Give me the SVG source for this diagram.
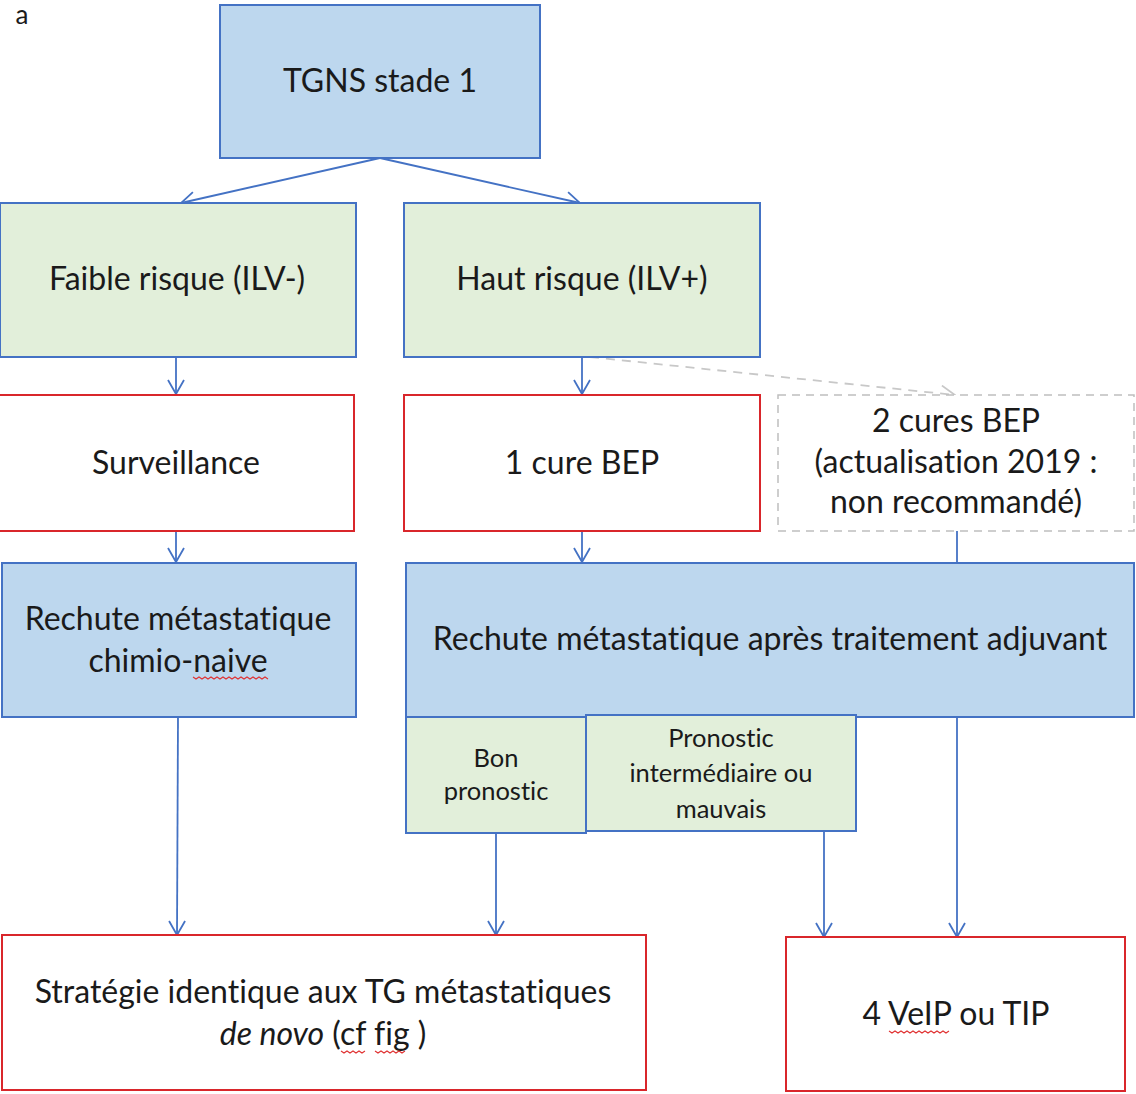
<svg xmlns="http://www.w3.org/2000/svg" width="1136" height="1094" viewBox="0 0 1136 1094">
<style>
text{font-family:Lato,"Liberation Sans",sans-serif;fill:#1a1a1a;text-anchor:middle;font-variant-ligatures:none;font-feature-settings:"liga" 0}
.big{font-size:32px}
.sm{font-size:25.5px}
.blue{fill:#BDD7EE;stroke:#4472C4;stroke-width:2}
.green{fill:#E2EFDA;stroke:#4472C4;stroke-width:2}
.red{fill:#fff;stroke:#D9262B;stroke-width:2}
.dash{fill:#fff;stroke:#BFBFBF;stroke-width:1.5;stroke-dasharray:8 6}
.c{fill:none;stroke:#4472C4;stroke-width:1.8}
.cd{fill:none;stroke:#C8C8C8;stroke-width:1.8;stroke-dasharray:9 7}
.sq{fill:none;stroke:#E03030;stroke-width:1.1}
</style>
<defs>
<marker id="ah" viewBox="0 0 16 18" refX="15" refY="9" markerWidth="16" markerHeight="18" markerUnits="userSpaceOnUse" orient="auto">
<path d="M1,1 L15,9 L1,17" fill="none" stroke="#4472C4" stroke-width="1.8"/>
</marker>
<marker id="ahg" viewBox="0 0 16 18" refX="15" refY="9" markerWidth="16" markerHeight="18" markerUnits="userSpaceOnUse" orient="auto">
<path d="M1,1 L15,9 L1,17" fill="none" stroke="#C8C8C8" stroke-width="1.8"/>
</marker>
</defs>
<rect width="1136" height="1094" fill="#fff"/>
<text x="22" y="24" style="font-size:26px">a</text>

<g id="connectors">
<line class="c" x1="380" y1="158" x2="181" y2="203" marker-end="url(#ah)"/>
<line class="c" x1="380" y1="158" x2="580" y2="203" marker-end="url(#ah)"/>
<line class="c" x1="176" y1="357" x2="176" y2="394" marker-end="url(#ah)"/>
<line class="c" x1="582" y1="357" x2="582" y2="394" marker-end="url(#ah)"/>
<line class="cd" x1="590" y1="357" x2="955" y2="395" marker-end="url(#ahg)"/>
<line class="c" x1="176" y1="531" x2="176" y2="562" marker-end="url(#ah)"/>
<line class="c" x1="582" y1="531" x2="582" y2="562" marker-end="url(#ah)"/>
<line class="c" x1="957" y1="531" x2="957" y2="563"/>
<line class="c" x1="178" y1="717" x2="177" y2="935" marker-end="url(#ah)"/>
<line class="c" x1="496" y1="833" x2="496" y2="935" marker-end="url(#ah)"/>
<line class="c" x1="824" y1="831" x2="824" y2="937" marker-end="url(#ah)"/>
<line class="c" x1="957" y1="717" x2="957" y2="937" marker-end="url(#ah)"/>
</g>

<g id="tgns">
<rect class="blue" x="220" y="5" width="320" height="153"/>
<text class="big" x="380" y="92">TGNS stade 1</text>
</g>
<g id="faible">
<rect class="green" x="0" y="203" width="356" height="154"/>
<text class="big" x="177" y="290">Faible risque (ILV-)</text>
</g>
<g id="haut">
<rect class="green" x="404" y="203" width="356" height="154"/>
<text class="big" x="582" y="290">Haut risque (ILV+)</text>
</g>
<g id="surveillance">
<rect class="red" x="-2" y="395" width="356" height="136"/>
<text class="big" x="176" y="474">Surveillance</text>
</g>
<g id="bep1">
<rect class="red" x="404" y="395" width="356" height="136"/>
<text class="big" x="582" y="474">1 cure BEP</text>
</g>
<g id="bep2">
<rect class="dash" x="778" y="395" width="356" height="136"/>
<text class="big" x="956" y="432">2 cures BEP</text>
<text class="big" x="956" y="473">(actualisation 2019 :</text>
<text class="big" x="956" y="513">non recommandé)</text>
</g>
<g id="rechute-naive">
<rect class="blue" x="2" y="563" width="354" height="154"/>
<text class="big" x="178" y="630">Rechute métastatique</text>
<text class="big" x="178" y="672">chimio-naive</text>
<path class="sq" d="M193,677 l3,2 l3,-2 l3,2 l3,-2 l3,2 l3,-2 l3,2 l3,-2 l3,2 l3,-2 l3,2 l3,-2 l3,2 l3,-2 l3,2 l3,-2 l3,2 l3,-2 l3,2 l3,-2 l3,2 l3,-2 l3,2 l3,-2 l3,2"/>
</g>
<g id="rechute-adj">
<rect class="blue" x="406" y="563" width="728" height="154"/>
<text class="big" x="770" y="650">Rechute métastatique après traitement adjuvant</text>
</g>
<g id="bon">
<rect class="green" x="406" y="717" width="180" height="116"/>
<text class="sm" x="496" y="767">Bon</text>
<text class="sm" x="496" y="800">pronostic</text>
</g>
<g id="interm">
<rect class="green" x="586" y="715" width="270" height="116"/>
<text class="sm" x="721" y="747">Pronostic</text>
<text class="sm" x="721" y="782">intermédiaire ou</text>
<text class="sm" x="721" y="818">mauvais</text>
</g>
<g id="strategie">
<rect class="red" x="2" y="935" width="644" height="155"/>
<text class="big" x="323" y="1003">Stratégie identique aux TG métastatiques</text>
<text class="big" x="323" y="1045"><tspan font-style="italic">de novo</tspan> (cf fig )</text>
<path class="sq" d="M341,1051 l3,2 l3,-2 l3,2 l3,-2 l3,2 l3,-2 l3,2 l3,-2"/>
<path class="sq" d="M375,1051 l3,2 l3,-2 l3,2 l3,-2 l3,2 l3,-2 l3,2 l3,-2 l3,2 l3,-2"/>
</g>
<g id="veip">
<rect class="red" x="786" y="937" width="339" height="154"/>
<text class="big" x="956" y="1025">4 VeIP ou TIP</text>
<path class="sq" d="M889,1031 l3,2 l3,-2 l3,2 l3,-2 l3,2 l3,-2 l3,2 l3,-2 l3,2 l3,-2 l3,2 l3,-2 l3,2 l3,-2 l3,2 l3,-2 l3,2 l3,-2 l3,2 l3,-2"/>
</g>
</svg>
